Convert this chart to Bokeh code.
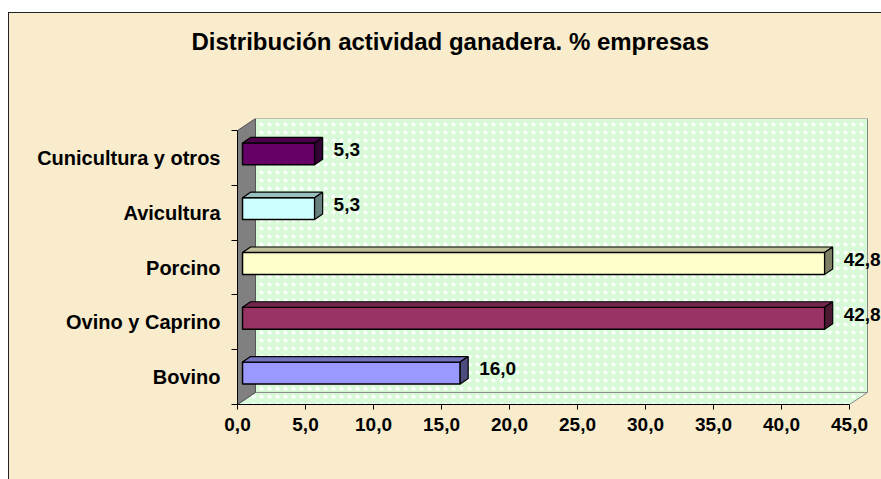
from bokeh.plotting import figure
from bokeh.models import Range1d, FixedTicker, ColumnDataSource, Spacer, Title
from bokeh.layouts import column, row
from bokeh.embed import file_html
from bokeh.resources import INLINE

# ---------------- data ----------------
CATEGORIES = ["Bovino", "Ovino y Caprino", "Porcino", "Avicultura", "Cunicultura y otros"]
VALUES = [16.0, 42.8, 42.8, 5.3, 5.3]
X_TICKS = [0, 5, 10, 15, 20, 25, 30, 35, 40, 45]
X_TICK_LABELS = ["0,0", "5,0", "10,0", "15,0", "20,0", "25,0", "30,0", "35,0", "40,0", "45,0"]
TITLE = "Distribución actividad ganadera. % empresas"
BAR_COLORS = ["#9999FF", "#993366", "#FFFFCC", "#CCFFFF", "#660066"]

# ---------------- styles ----------------
FONT = "Liberation Sans"
BEIGE = "#F8ECCD"
WALL = "#D8FAD8"
XMAX = 45
DX, DY = 1.32, 0.22          # depth of the 3D walls (data units)
BAR_X0 = 0.37                # bar front-face start
BAR_DX, BAR_DY = 0.59, 0.10  # bar depth
BAR_H = 0.40
BAR_SHIFT = 0.075


def shade(hx, f):
    hx = hx.lstrip("#")
    r, g, b = (int(hx[i:i + 2], 16) for i in (0, 2, 4))
    return "#%02X%02X%02X" % (int(r * f), int(g * f), int(b * f))


n = len(CATEGORIES)
centers = [i + 0.5 + BAR_SHIFT for i in range(n)]
tick_centers = [i + 0.5 for i in range(n)]
rights = [v + BAR_X0 for v in VALUES]

# ---------------- title strip ----------------
t = figure(width=873, height=60, output_backend="svg", toolbar_location=None,
           x_range=Range1d(0, 1), y_range=Range1d(0, 1),
           min_border_left=228, min_border_right=0, min_border_top=0, min_border_bottom=0,
           x_axis_location=None, y_axis_location=None)
t.title = Title(text=TITLE, align="left", offset=-46, standoff=27, vertical_align="middle",
                text_font=FONT, text_font_size="24px", text_font_style="bold", text_color="black")
t.background_fill_color = BEIGE
t.border_fill_color = BEIGE
t.outline_line_color = None
t.grid.visible = False
t.styles = {"border-left": "1px solid #222", "border-top": "1px solid #222"}

# ---------------- main chart ----------------
FRAME_W = 873 - 228
X_END = (XMAX + DX) * FRAME_W / 630.0

p = figure(width=873, height=407, output_backend="svg", toolbar_location=None,
           x_range=Range1d(0, X_END), y_range=Range1d(0, n + DY),
           min_border_left=228, min_border_right=0, min_border_top=46, min_border_bottom=75)
p.background_fill_color = BEIGE
p.border_fill_color = BEIGE
p.outline_line_color = None
p.grid.visible = False
p.styles = {"border-left": "1px solid #222"}

# walls
p.patch([0, XMAX, XMAX + DX, DX], [0, 0, DY, DY], fill_color=WALL, line_color="#888888",
        hatch_pattern="dot", hatch_color="white", hatch_scale=8, hatch_weight=1.5)
p.quad(left=[DX], right=[XMAX + DX], bottom=[DY], top=[n + DY], fill_color=WALL,
       line_color="#888888", hatch_pattern="dot", hatch_color="white", hatch_scale=8, hatch_weight=1.5)
p.patch([0, DX, DX, 0], [0, DY, n + DY, n], fill_color="#808080", line_color="#555555")

# bars
src = ColumnDataSource(dict(
    y=centers, left=[BAR_X0] * n, right=rights, color=BAR_COLORS,
    top_color=[shade(c, 0.75) for c in BAR_COLORS],
    side_color=[shade(c, 0.5) for c in BAR_COLORS],
    top_xs=[[BAR_X0, BAR_X0 + BAR_DX, r + BAR_DX, r] for r in rights],
    top_ys=[[c + BAR_H / 2, c + BAR_H / 2 + BAR_DY, c + BAR_H / 2 + BAR_DY, c + BAR_H / 2] for c in centers],
    side_xs=[[r, r + BAR_DX, r + BAR_DX, r] for r in rights],
    side_ys=[[c - BAR_H / 2, c - BAR_H / 2 + BAR_DY, c + BAR_H / 2 + BAR_DY, c + BAR_H / 2] for c in centers],
    label=[("%.1f" % v).replace(".", ",") for v in VALUES],
    lx=rights,
))
p.hbar(y="y", left="left", right="right", height=BAR_H, fill_color="color",
       line_color="black", line_width=1.5, source=src)
p.patches(xs="top_xs", ys="top_ys", fill_color="top_color", line_color="black", line_width=1.2, source=src)
p.patches(xs="side_xs", ys="side_ys", fill_color="side_color", line_color="black", line_width=1.2, source=src)

# value labels
p.text(x="lx", y="y", text="label", x_offset=19, y_offset=-4, text_align="left",
       text_baseline="middle", text_font_size="19px", text_font_style="bold",
       text_color="black", text_font={"value": FONT}, source=src)

# x axis
xa = p.xaxis[0]
xa.ticker = FixedTicker(ticks=X_TICKS, minor_ticks=[])
xa.major_label_overrides = dict(zip(X_TICKS, X_TICK_LABELS))
xa.bounds = (0, XMAX)
xa.axis_line_color = "black"
xa.major_tick_line_color = "black"
xa.major_tick_out = 5
xa.major_tick_in = 0
xa.major_label_standoff = 8
xa.major_label_text_font = FONT
xa.major_label_text_font_size = "19px"
xa.major_label_text_font_style = "bold"
xa.major_label_text_color = "black"

# y axis
ya = p.yaxis[0]
ya.ticker = FixedTicker(ticks=tick_centers, minor_ticks=list(range(n + 1)))
ya.major_label_overrides = dict(zip(tick_centers, CATEGORIES))
ya.bounds = (0, n)
ya.axis_line_color = "black"
ya.major_tick_line_color = None
ya.major_tick_out = 0
ya.major_tick_in = 0
ya.minor_tick_line_color = "black"
ya.minor_tick_out = 6
ya.minor_tick_in = 0
ya.major_label_standoff = 11
ya.major_label_text_font = FONT
ya.major_label_text_font_size = "20px"
ya.major_label_text_font_style = "bold"
ya.major_label_text_color = "black"

inner = column(t, p)
inner.styles = {"background-color": BEIGE}
layout = column(Spacer(width=881, height=12),
                row(Spacer(width=8, height=467), inner))
open("out.html", "w").write(file_html(layout, INLINE))
